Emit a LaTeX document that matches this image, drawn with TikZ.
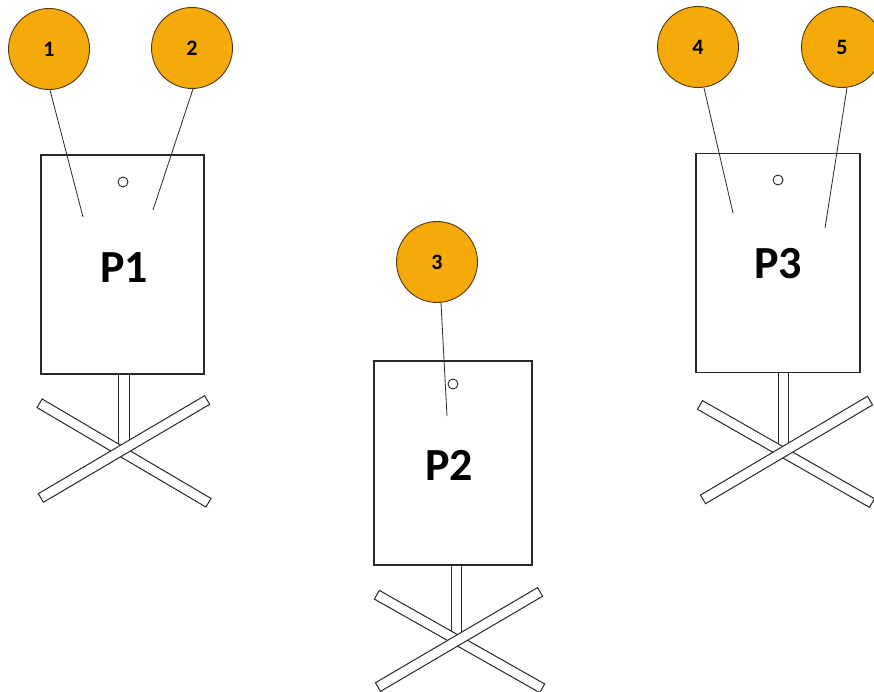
\documentclass[tikz,border=0pt]{standalone}
\usepackage{fontspec}
\setmainfont{Carlito}
\definecolor{ballfill}{RGB}{245,170,10}
\definecolor{balledge}{RGB}{80,55,20}
\definecolor{lineg}{RGB}{40,40,40}
\begin{document}
\begin{tikzpicture}[x=1pt,y=-1pt,
  ball/.style={circle,draw=balledge,line width=0.9pt,fill=ballfill,minimum size=81pt,inner sep=0pt,font=\bfseries\fontsize{22}{22}\selectfont},
  board/.style={draw=lineg,line width=1.1pt,fill=white,inner sep=0pt},
  hole/.style={circle,draw=lineg,line width=0.9pt,minimum size=10pt,inner sep=0pt},
  lbl/.style={font=\bfseries\fontsize{46}{46}\selectfont},
  stem/.style={draw=lineg,line width=1pt,fill=white,minimum width=11pt,inner sep=0pt},
  bar/.style={draw=lineg,line width=1pt,fill=white,minimum height=10pt,inner sep=0pt},
  wire/.style={draw=lineg,line width=0.8pt}]
\useasboundingbox (0,0) rectangle (874,692);
% ---------- P1 ----------
\node[stem,minimum height=80pt] (s1) at (123.5,409) {};
\node[bar,minimum width=196pt,rotate=-30.5] (b1a) at (124,453) {};
\node[bar,minimum width=193pt,rotate=30.5] (b1b) at (124,449) {};
\node[board,minimum width=163pt,minimum height=219pt] (r1) at (122.5,264.5) {};
\node[hole] (h1) at (123,182) {};
\node[lbl] (t1) at (124,268) {P1};
\node[ball] (c1) at (49,49) {1};
\node[ball] (c2) at (192,48) {2};
\coordinate (e1) at (83,217);
\coordinate (e2) at (153,210);
\draw[wire] (c1.south) ++(1,0) -- (e1);
\draw[wire] (c2.south) ++(1,0) -- (e2);
% ---------- P2 ----------
\node[stem,minimum height=76pt,minimum width=10pt] (s2) at (456.5,600) {};
\node[bar,minimum width=190pt,rotate=-29.5] (b2a) at (459.5,641.5) {};
\node[bar,minimum width=188pt,rotate=30.4] (b2b) at (459,639.5) {};
\node[board,minimum width=158pt,minimum height=204pt] (r2) at (453,463) {};
\node[hole] (h2) at (453,384) {};
\node[lbl] (t2) at (449,465) {P2};
\node[ball] (c3) at (437,262) {3};
\coordinate (e3) at (447,416);
\draw[wire] (c3.south) ++(4,0) -- (e3);
% ---------- P3 ----------
\node[stem,minimum height=78pt,minimum width=10pt] (s3) at (783.5,407) {};
\node[bar,minimum width=198pt,rotate=-29.7] (b3a) at (786,454) {};
\node[bar,minimum width=194pt,rotate=30.6] (b3b) at (786.5,450) {};
\node[board,minimum width=164pt,minimum height=219pt] (r3) at (778,263) {};
\node[hole] (h3) at (778,180) {};
\node[lbl] (t3) at (778,264) {P3};
\node[ball] (c4) at (698,47) {4};
\node[ball] (c5) at (842,47) {5};
\coordinate (e4) at (733,213);
\coordinate (e5) at (825,228);
\draw[wire] (c4.south) ++(6,0) -- (e4);
\draw[wire] (c5.south) ++(5,0) -- (e5);
\end{tikzpicture}
\end{document}
